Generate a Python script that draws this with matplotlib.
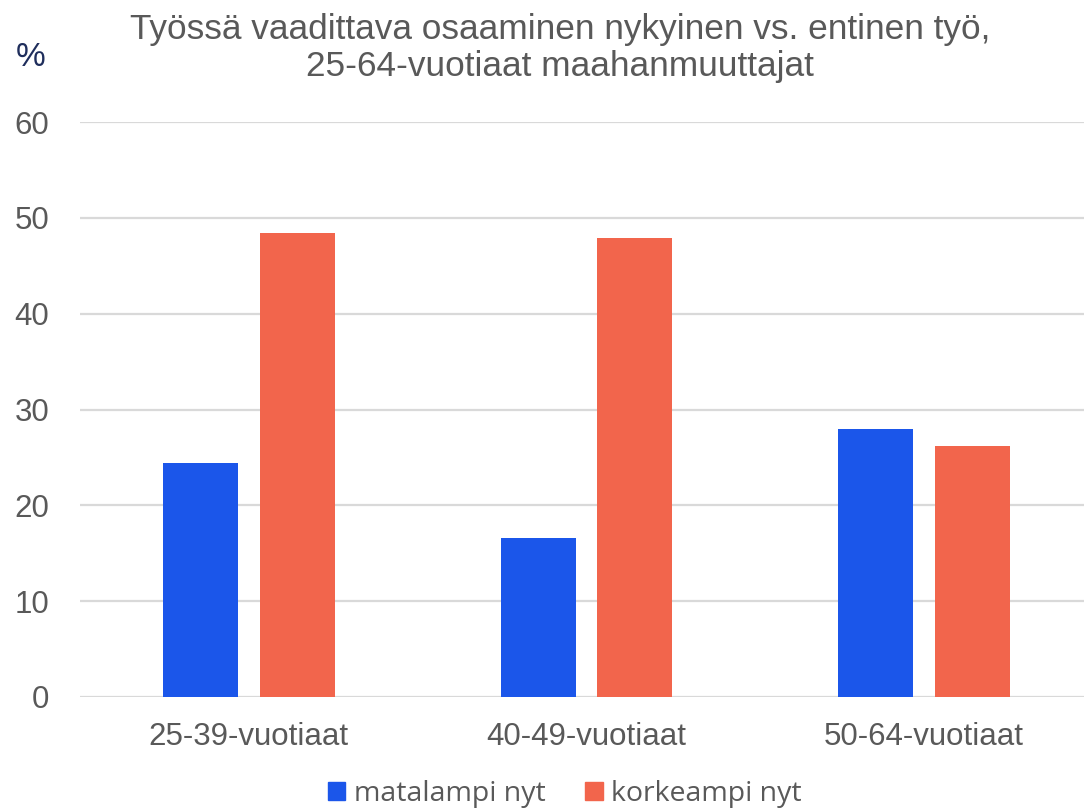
import matplotlib
matplotlib.use("Agg")
import matplotlib.pyplot as plt
from matplotlib.patches import Patch
import numpy as np

categories = ["25-39-vuotiaat", "40-49-vuotiaat", "50-64-vuotiaat"]
series_names = ["matalampi nyt", "korkeampi nyt"]
matalampi = [24.4, 16.6, 28.0]
korkeampi = [48.4, 47.9, 26.2]
yticks = [0, 10, 20, 30, 40, 50, 60]

blue = "#1B56EA"
orange = "#F2654C"
grey = "#595959"
fam = ["Liberation Sans Narrow", "Liberation Sans", "DejaVu Sans"]

fig = plt.figure(figsize=(10.84, 8.11), dpi=100)
W, H = 1084, 811
left, right, bottom, top = 80, 1093, 697, 122
ax = fig.add_axes([left / W, 1 - bottom / H, (right - left) / W, (bottom - top) / H])

x = np.arange(len(categories))
bw = 0.222
off = 0.143
ax.bar(x - off, matalampi, bw, color=blue, zorder=3)
ax.bar(x + off, korkeampi, bw, color=orange, zorder=3)

ax.set_xlim(-0.5, 2.5)
ax.set_ylim(0, 60)
ax.set_yticks(yticks)
ax.set_xticks(x)
ax.set_xticklabels(categories)
ax.yaxis.grid(True, color="#D9D9D9", linewidth=1.6, zorder=0)
ax.set_axisbelow(True)
for s in ax.spines.values():
    s.set_visible(False)
ax.tick_params(axis="both", length=0, labelcolor=grey)
ax.tick_params(axis="y", pad=22)
ax.tick_params(axis="x", pad=18)
for lab in ax.get_xticklabels() + ax.get_yticklabels():
    lab.set_family(fam)
    lab.set_fontsize(22.5)

fig.text(560 / W, 1 - 48 / H, "Työssä vaadittava osaaminen nykyinen vs. entinen työ,\n25-64-vuotiaat maahanmuuttajat",
         ha="center", va="center", fontsize=25.4, color=grey, linespacing=1.12, family=fam)
fig.text(31 / W, 1 - 58 / H, "%", ha="center", va="center", fontsize=24, color="#1F2E5C", family=fam)

handles = [Patch(color=blue, label=series_names[0]), Patch(color=orange, label=series_names[1])]
leg = fig.legend(handles=handles, loc="center", bbox_to_anchor=(565 / W, 1 - 794 / H), ncol=2,
                 frameon=False, handlelength=0.6, handleheight=0.6,
                 handletextpad=0.3, columnspacing=1.4,
                 prop={"family": ["Open Sans", "DejaVu Sans"], "size": 20.5})
for t in leg.get_texts():
    t.set_color(grey)

fig.savefig("out.png", dpi=100)
